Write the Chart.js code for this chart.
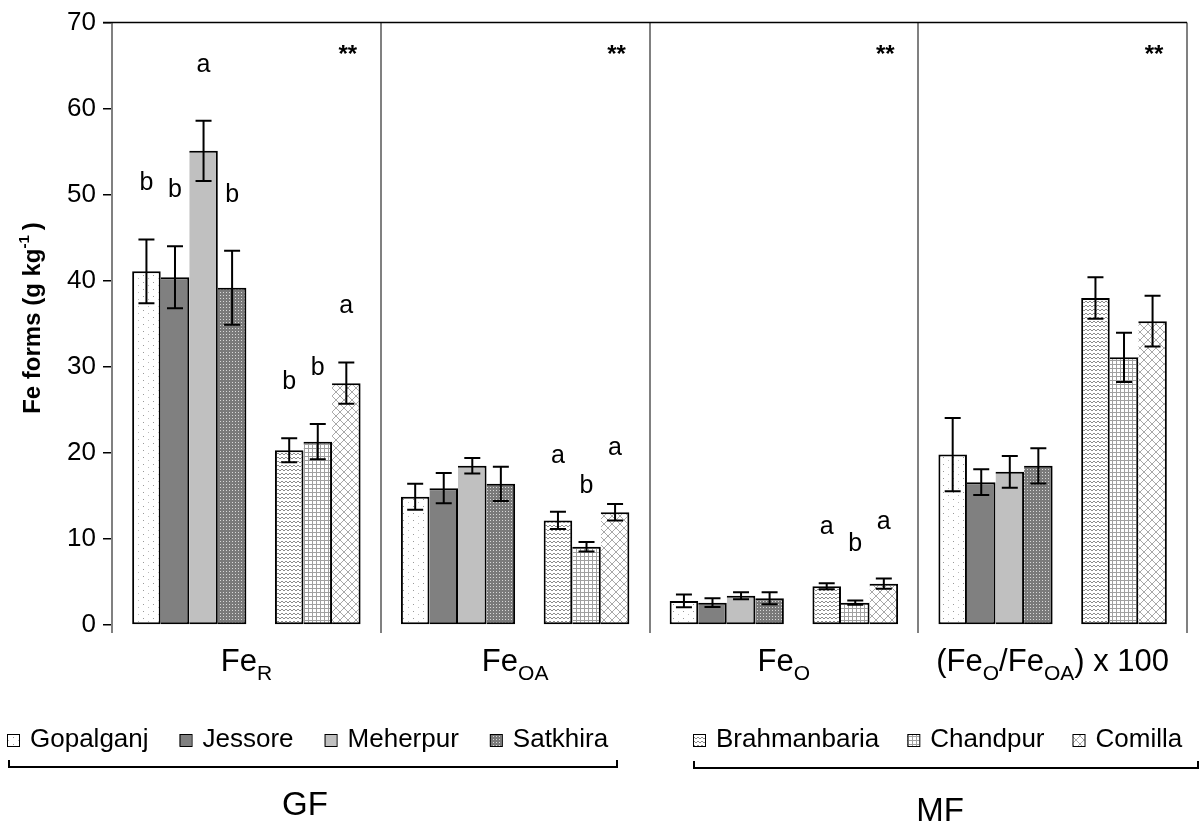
<!DOCTYPE html>
<html>
<head>
<meta charset="utf-8">
<script src="https://cdn.jsdelivr.net/npm/chart.js@4.4.1/dist/chart.umd.min.js"></script>
<style>
  body { margin: 0; background: #fff; }
  #wrap { width: 1202px; height: 825px; position: relative; }
</style>
</head>
<body>
<div id="wrap"><canvas id="feChart"></canvas></div>
<script>
// categories and values
const categories = ['FeR', 'FeOA', 'FeO', '(FeO/FeOA) x 100'];

const gopalganj    = [41.1, 14.9, 2.8, 19.8];
const jessore      = [40.4, 15.9, 2.6, 16.6];
const meherpur     = [55.1, 18.5, 3.4, 17.8];
const satkhira     = [39.2, 16.4, 3.1, 18.5];
const brahmanbaria = [20.3, 12.15, 4.5, 38.0];
const chandpur     = [21.3, 9.1, 2.6, 31.1];
const comilla      = [28.1, 13.1, 4.8, 35.3];

const gopalganjErr    = [3.7, 1.5, 0.75, 4.25];
const jessoreErr      = [3.6, 1.75, 0.5, 1.5];
const meherpurErr     = [3.5, 0.9, 0.4, 1.85];
const satkhiraErr     = [4.3, 2.0, 0.7, 2.05];
const brahmanbariaErr = [1.4, 1.0, 0.35, 2.4];
const chandpurErr     = [2.05, 0.55, 0.25, 2.85];
const comillaErr      = [2.4, 0.95, 0.6, 2.95];

const gopalganjLetters    = ['b', '', '', ''];
const jessoreLetters      = ['b', '', '', ''];
const meherpurLetters     = ['a', '', '', ''];
const satkhiraLetters     = ['b', '', '', ''];
const brahmanbariaLetters = ['b', 'a', 'a', ''];
const chandpurLetters     = ['b', 'b', 'b', ''];
const comillaLetters      = ['a', 'a', 'a', ''];

const stars = ['**', '**', '**', '**'];
const yTicks = [0, 10, 20, 30, 40, 50, 60, 70];

// x labels with subscripts: [text, isSub]
const xLabelParts = [
  [['Fe', 0], ['R', 1]],
  [['Fe', 0], ['OA', 1]],
  [['Fe', 0], ['O', 1]],
  [['(Fe', 0], ['O', 1], ['/Fe', 0], ['OA', 1], [') x 100', 0]]
];

const FONT = '"Liberation Sans", Arial, sans-serif';
Chart.defaults.font.family = FONT;
Chart.defaults.color = '#000';

// fill patterns
function makePattern(w, h, draw) {
  const c = document.createElement('canvas');
  c.width = w; c.height = h;
  const g = c.getContext('2d');
  draw(g, w, h);
  return g.createPattern(c, 'repeat');
}

const patGopalganj = makePattern(10, 7, (g, w, h) => {
  g.fillStyle = '#fff'; g.fillRect(0, 0, w, h);
  g.fillStyle = '#999'; g.fillRect(3, 2, 1, 1);
  g.fillStyle = '#bbb'; g.fillRect(8, 5, 1, 1);
});
const patSatkhira = makePattern(3, 3, (g, w, h) => {
  g.fillStyle = '#7a7a7a'; g.fillRect(0, 0, w, h);
  g.fillStyle = '#d8d8d8'; g.fillRect(1, 1, 1, 1);
});
const patBrahmanbaria = makePattern(8, 4, (g, w, h) => {
  g.fillStyle = '#fff'; g.fillRect(0, 0, w, h);
  g.strokeStyle = '#8c8c8c'; g.lineWidth = 1;
  g.beginPath();
  g.moveTo(0, 3); g.lineTo(2, 1); g.lineTo(4, 3); g.lineTo(6, 1); g.lineTo(8, 3);
  g.stroke();
});
const patChandpur = makePattern(4, 4, (g, w, h) => {
  g.fillStyle = '#fff'; g.fillRect(0, 0, w, h);
  g.fillStyle = '#a0a0a0';
  g.fillRect(0, 0, 1, h);
  g.fillRect(0, 0, w, 1);
});
const patComilla = makePattern(8, 8, (g, w, h) => {
  g.fillStyle = '#fff'; g.fillRect(0, 0, w, h);
  g.strokeStyle = '#a8a8a8'; g.lineWidth = 1;
  g.beginPath();
  g.moveTo(0, 0); g.lineTo(8, 8);
  g.moveTo(8, 0); g.lineTo(0, 8);
  g.stroke();
});

function bar(label, data, fill, err, letters, skip) {
  return {
    label: label,
    data: data,
    backgroundColor: fill,
    borderColor: '#000',
    borderWidth: 2,
    borderSkipped: skip,
    err: err,
    letters: letters
  };
}

const datasets = [
  bar('Gopalganj', gopalganj, patGopalganj, gopalganjErr, gopalganjLetters, false),
  bar('Jessore', jessore, '#808080', jessoreErr, jessoreLetters, 'left'),
  bar('Meherpur', meherpur, '#c0c0c0', meherpurErr, meherpurLetters, 'left'),
  bar('Satkhira', satkhira, patSatkhira, satkhiraErr, satkhiraLetters, 'left'),
  { label: '', data: [null, null, null, null], backgroundColor: 'rgba(0,0,0,0)' },
  bar('Brahmanbaria', brahmanbaria, patBrahmanbaria, brahmanbariaErr, brahmanbariaLetters, false),
  bar('Chandpur', chandpur, patChandpur, chandpurErr, chandpurLetters, 'left'),
  bar('Comilla', comilla, patComilla, comillaErr, comillaLetters, 'left')
];

const gfLegend = [0, 1, 2, 3];
const mfLegend = [5, 6, 7];

const extras = {
  id: 'extras',
  afterDatasetsDraw(chart) {
    const ctx = chart.ctx;
    const y = chart.scales.y;
    ctx.save();
    ctx.strokeStyle = '#000';
    ctx.lineWidth = 2;
    chart.data.datasets.forEach((ds, di) => {
      if (!ds.err) return;
      const meta = chart.getDatasetMeta(di);
      meta.data.forEach((el, i) => {
        const v = ds.data[i], e = ds.err[i];
        const top = y.getPixelForValue(v + e);
        const bot = y.getPixelForValue(v - e);
        ctx.beginPath();
        ctx.moveTo(el.x, top); ctx.lineTo(el.x, bot);
        ctx.moveTo(el.x - 8, top); ctx.lineTo(el.x + 8, top);
        ctx.moveTo(el.x - 8, bot); ctx.lineTo(el.x + 8, bot);
        ctx.stroke();
        if (ds.letters[i]) {
          ctx.fillStyle = '#000';
          ctx.font = '25px ' + FONT;
          ctx.textAlign = 'center';
          ctx.textBaseline = 'middle';
          ctx.fillText(ds.letters[i], el.x, top - 56);
        }
      });
    });
    ctx.restore();
  },
  afterDraw(chart) {
    const ctx = chart.ctx;
    const area = chart.chartArea;
    const x = chart.scales.x;
    ctx.save();
    // top frame line
    ctx.strokeStyle = '#000';
    ctx.lineWidth = 1.5;
    ctx.beginPath();
    ctx.moveTo(area.left - 9, area.top);
    ctx.lineTo(area.right, area.top);
    ctx.stroke();

    // significance stars
    const groupW = (area.right - area.left) / categories.length;
    ctx.fillStyle = '#000';
    ctx.font = 'bold 24px ' + FONT;
    ctx.textAlign = 'center';
    ctx.textBaseline = 'middle';
    stars.forEach((s, i) => {
      ctx.fillText(s, area.left + groupW * (i + 1) - 33, area.top + 33);
    });

    // category labels with subscripts
    const big = 31, small = 21;
    categories.forEach((c, i) => {
      const parts = xLabelParts[i];
      let total = 0;
      parts.forEach(p => {
        ctx.font = (p[1] ? small : big) + 'px ' + FONT;
        total += ctx.measureText(p[0]).width;
      });
      let cx = x.getPixelForValue(i) - total / 2;
      ctx.textAlign = 'left';
      ctx.textBaseline = 'alphabetic';
      parts.forEach(p => {
        ctx.font = (p[1] ? small : big) + 'px ' + FONT;
        ctx.fillText(p[0], cx, p[1] ? 680 : 671);
        cx += ctx.measureText(p[0]).width;
      });
    });

    // y title with superscript
    ctx.save();
    ctx.translate(33, 318);
    ctx.rotate(-Math.PI / 2);
    const t1 = 'Fe forms (g kg', t2 = '-1', t3 = ')';
    ctx.font = 'bold 24px ' + FONT;
    const w1 = ctx.measureText(t1).width, w3 = ctx.measureText(t3).width;
    ctx.font = 'bold 15px ' + FONT;
    const w2 = ctx.measureText(t2).width;
    let tx = -(w1 + w2 + w3 + 5) / 2;
    ctx.textAlign = 'left';
    ctx.textBaseline = 'middle';
    ctx.font = 'bold 24px ' + FONT;
    ctx.fillText(t1, tx, 0);
    ctx.font = 'bold 15px ' + FONT;
    ctx.fillText(t2, tx + w1, -8);
    ctx.font = 'bold 24px ' + FONT;
    ctx.fillText(t3, tx + w1 + w2 + 5, 0);
    ctx.restore();

    // legend rows
    function legendRow(list, startX, gap) {
      let lx = startX;
      const ly = 740;
      list.forEach(di => {
        const ds = chart.data.datasets[di];
        ctx.fillStyle = ds.backgroundColor;
        ctx.fillRect(lx, ly - 6, 12, 12);
        ctx.strokeStyle = '#000';
        ctx.lineWidth = 1;
        ctx.strokeRect(lx + 0.5, ly - 5.5, 12, 12);
        ctx.fillStyle = '#000';
        ctx.font = '26px ' + FONT;
        ctx.textAlign = 'left';
        ctx.textBaseline = 'middle';
        ctx.fillText(ds.label, lx + 23, ly);
        lx += 23 + ctx.measureText(ds.label).width + gap;
      });
    }
    legendRow(gfLegend, 7, 31);
    legendRow(mfLegend, 693, 28);

    // brackets
    function bracket(x1, x2, yb) {
      ctx.strokeStyle = '#000';
      ctx.lineWidth = 2;
      ctx.beginPath();
      ctx.moveTo(x1, yb - 7); ctx.lineTo(x1, yb);
      ctx.lineTo(x2, yb); ctx.lineTo(x2, yb - 7);
      ctx.stroke();
    }
    bracket(9, 617, 767);
    bracket(694, 1198, 768);

    ctx.fillStyle = '#000';
    ctx.font = '33px ' + FONT;
    ctx.textAlign = 'center';
    ctx.textBaseline = 'middle';
    ctx.fillText('GF', 305, 806);
    ctx.fillText('MF', 940, 812);
    ctx.restore();
  }
};

new Chart(document.getElementById('feChart').getContext('2d'), {
  type: 'bar',
  data: { labels: categories, datasets: datasets },
  options: {
    responsive: true,
    maintainAspectRatio: false,
    animation: false,
    layout: { padding: { left: 0, top: 22, right: 15, bottom: 0 } },
    datasets: { bar: { barPercentage: 1, categoryPercentage: 0.85 } },
    plugins: { legend: { display: false }, tooltip: { enabled: false } },
    scales: {
      x: {
        offset: true,
        grid: { offset: true, color: '#808080', lineWidth: 2, tickLength: 8, drawOnChartArea: true },
        border: { display: false },
        ticks: { display: false },
        afterFit(scale) { scale.height = 200; }
      },
      y: {
        min: 0,
        max: 70,
        afterBuildTicks(scale) { scale.ticks = yTicks.map(v => ({ value: v })); },
        ticks: { font: { size: 26 }, color: '#000', padding: 7 },
        grid: { drawOnChartArea: false, color: '#000', lineWidth: 1.5, tickLength: 9 },
        border: { color: '#808080', width: 2 },
        afterFit(scale) { scale.width = 112; }
      }
    }
  },
  plugins: [extras]
});
</script>
</body>
</html>
